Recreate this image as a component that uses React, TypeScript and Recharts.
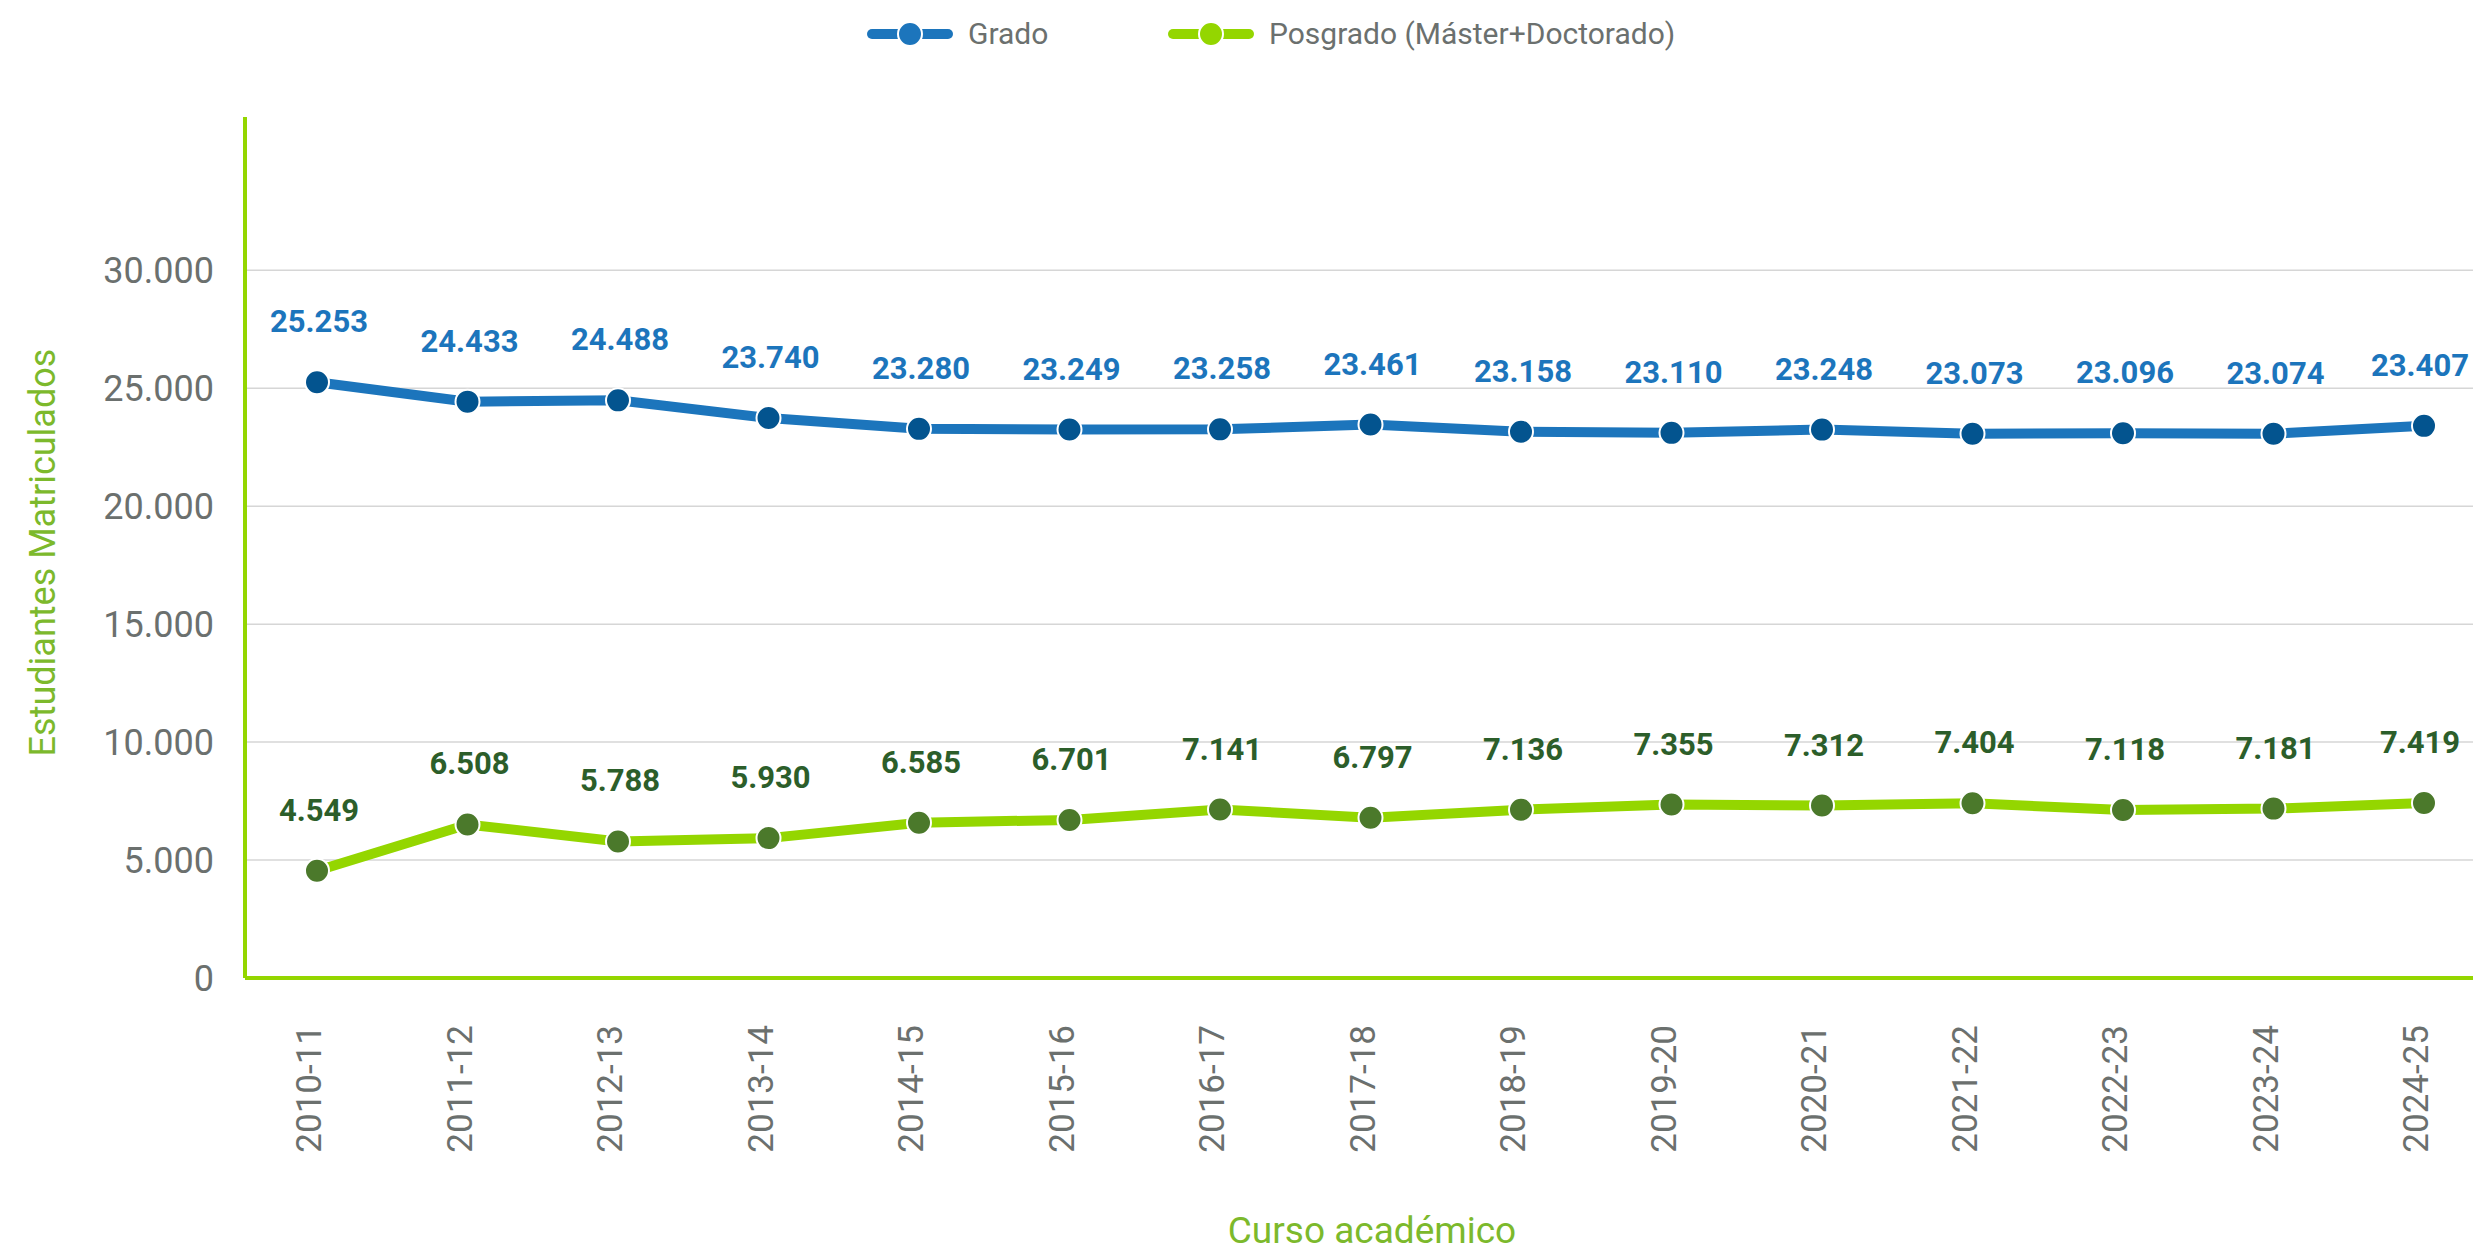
import { LineChart, Line, XAxis, YAxis, CartesianGrid, Legend, LabelList } from "recharts";

const cursos = [
  "2010-11", "2011-12", "2012-13", "2013-14", "2014-15", "2015-16", "2016-17", "2017-18",
  "2018-19", "2019-20", "2020-21", "2021-22", "2022-23", "2023-24", "2024-25",
];
const grado = [25253, 24433, 24488, 23740, 23280, 23249, 23258, 23461, 23158, 23110, 23248, 23073, 23096, 23074, 23407];
const posgrado = [4549, 6508, 5788, 5930, 6585, 6701, 7141, 6797, 7136, 7355, 7312, 7404, 7118, 7181, 7419];
const yTicks = [0, 5000, 10000, 15000, 20000, 25000, 30000];
const gridValues = [5000, 10000, 15000, 20000, 25000, 30000];

const data = cursos.map((c, i) => ({ curso: c, grado: grado[i], posgrado: posgrado[i] }));

const W = 2473;
const H = 1253;
const GRAY = "#6b706e";
const AXIS_GREEN = "#94d600";
const TITLE_GREEN = "#7cb92c";

const fmt = (n: number) => String(n).replace(/\B(?=(\d{3})+(?!\d))/g, ".");

// legend item left edges (px)
const legendX: Record<string, number> = { Grado: 867, "Posgrado (Máster+Doctorado)": 1168 };

function LegendContent(props: any) {
  const payload = props.payload || [];
  return (
    <div style={{ position: "relative", width: W, height: 68, fontFamily: "Roboto", fontSize: 30, color: GRAY }}>
      {payload.map((p: any) => (
        <div
          key={p.value}
          style={{ position: "absolute", left: legendX[p.value], top: 0, height: 68, display: "flex", alignItems: "center" }}
        >
          <svg width={86} height={28}>
            <line x1={5} y1={14} x2={81} y2={14} stroke={p.color} strokeWidth={10} strokeLinecap="round" />
            <circle cx={43} cy={14} r={12} fill={p.color} stroke="#fff" strokeWidth={2} />
          </svg>
          <span style={{ marginLeft: 15, lineHeight: "30px" }}>{p.value}</span>
        </div>
      ))}
    </div>
  );
}

function XTick({ x, y, payload }: any) {
  return (
    <g transform={`translate(${x + 4},${y + 47})`}>
      <text transform="rotate(-90)" textAnchor="end" fill={GRAY} fontSize={35} fontFamily="Roboto">
        {payload.value}
      </text>
    </g>
  );
}

const makeLabel = (color: string) => (props: any) => {
  const { x, y, value } = props;
  // keep the last label inside the right edge
  const cx = Math.min(x + 2, W - 53);
  return (
    <text x={cx} y={y - 50} textAnchor="middle" fill={color} fontSize={31} fontWeight="bold" fontFamily="Roboto">
      {fmt(value)}
    </text>
  );
};

function YTitle(props: any) {
  const vb = props.viewBox || { x: 0, y: 117, width: 245, height: 861 };
  const cy = vb.y + vb.height / 2 + 5;
  return (
    <g transform={`translate(55,${cy}) rotate(-90)`}>
      <text x={0} y={0} textAnchor="middle" fill={TITLE_GREEN} fontSize={36} fontFamily="Roboto">
        Estudiantes Matriculados
      </text>
    </g>
  );
}

function XTitle(props: any) {
  const vb = props.viewBox || { x: 245, y: 978, width: 2228, height: 275 };
  return (
    <text x={vb.x + vb.width / 2 + 13} y={1243} textAnchor="middle" fill={TITLE_GREEN} fontSize={37} fontFamily="Roboto">
      Curso académico
    </text>
  );
}

export default function App() {
  return (
    <div style={{ position: "absolute", left: 0, top: 0, width: W, height: H, background: "#fff" }}>
      <LineChart width={W} height={H} data={data} margin={{ top: 117, right: 0, left: 0, bottom: 0 }} style={{ fontFamily: "Roboto" }}>
        <CartesianGrid vertical={false} horizontalValues={gridValues} stroke="#d6d6d6" strokeWidth={1.5} />
        <XAxis
          dataKey="curso"
          scale="point"
          padding={{ left: 72, right: 49 }}
          height={275}
          axisLine={{ stroke: AXIS_GREEN, strokeWidth: 4 }}
          tickLine={false}
          tickSize={0}
          tickMargin={0}
          interval={0}
          tick={<XTick />}
          label={XTitle}
        />
        <YAxis
          width={245}
          domain={[0, 36500]}
          ticks={yTicks}
          allowDataOverflow
          axisLine={{ stroke: AXIS_GREEN, strokeWidth: 4 }}
          tickLine={false}
          tickSize={0}
          tickMargin={31}
          tickFormatter={fmt}
          tick={{ fill: GRAY, fontSize: 36, fontFamily: "Roboto" }}
          label={YTitle}
        />
        <Legend verticalAlign="middle" align="center" wrapperStyle={{ top: 0, left: 0, width: W, height: 68 }} content={<LegendContent />} />
        <Line
          name="Grado"
          dataKey="grado"
          stroke="#1c75bc"
          strokeWidth={10}
          dot={{ r: 12, fill: "#03548f", stroke: "#fff", strokeWidth: 2 }}
          activeDot={false}
          isAnimationActive={false}
        >
          <LabelList dataKey="grado" content={makeLabel("#1c75bc")} />
        </Line>
        <Line
          name="Posgrado (Máster+Doctorado)"
          dataKey="posgrado"
          stroke={AXIS_GREEN}
          strokeWidth={10}
          dot={{ r: 12, fill: "#4b792b", stroke: "#fff", strokeWidth: 2 }}
          activeDot={false}
          isAnimationActive={false}
        >
          <LabelList dataKey="posgrado" content={makeLabel("#2c5e2a")} />
        </Line>
      </LineChart>
    </div>
  );
}
